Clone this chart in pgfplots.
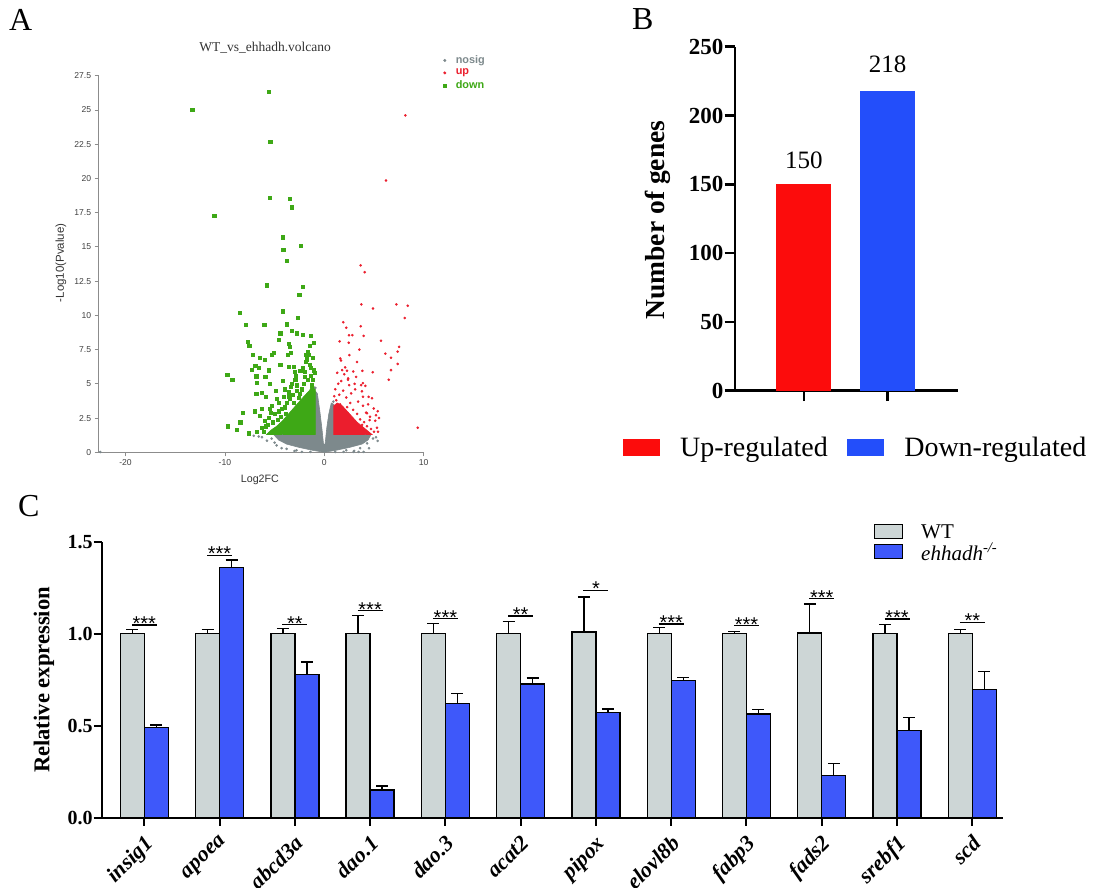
\documentclass[border=0pt]{standalone}
\usepackage{pgfplots}
\pgfplotsset{compat=1.18}
\usepackage{fontspec}
\setmainfont{Liberation Serif}
\newfontfamily\arial{Liberation Sans}
\definecolor{agreen}{RGB}{62,168,22}
\definecolor{ared}{RGB}{235,30,45}
\definecolor{agrey}{RGB}{125,137,140}
\definecolor{aaxis}{RGB}{140,140,140}
\definecolor{bred}{RGB}{252,12,12}
\definecolor{bblue}{RGB}{35,78,250}
\definecolor{cgrey}{RGB}{205,214,214}
\definecolor{cblue}{RGB}{62,88,250}
\pgfplotsset{/pgf/number format/assume math mode=true}
\begin{document}
\begin{tikzpicture}[x=1pt,y=1pt]
\path[use as bounding box] (0pt,0pt) rectangle (1094pt,888pt);
% panel letters
\node[anchor=base west,inner sep=0pt,font=\fontsize{32}{32}\selectfont] at (9pt,857pt) {A};
\node[anchor=base west,inner sep=0pt,font=\fontsize{32}{32}\selectfont] at (632pt,858pt) {B};
\node[anchor=base west,inner sep=0pt,font=\fontsize{32}{32}\selectfont] at (18pt,371.5pt) {C};

% ---------------- Panel A ----------------
\begin{axis}[
  at={(98.7pt,435.7pt)}, anchor=south west, scale only axis,
  width=325pt, height=376.6pt,
  xmin=-22.7, xmax=10, ymin=0, ymax=27.5,
  axis lines=left, axis line style={-, draw=aaxis, line width=0.8pt},
  xtick={-20,-10,0,10},
  ytick={0,2.5,5,7.5,10,12.5,15,17.5,20,22.5,25,27.5},
  tick align=outside, major tick length=4pt,
  tick style={draw=aaxis, line width=0.8pt},
  ticklabel style={font=\arial\fontsize{8.6}{9}\selectfont, text=black!75},
  clip=false,
  title={WT\_vs\_ehhadh.volcano},
  title style={at={(axis description cs:0.512,1.058)}, anchor=center, font=\fontsize{13.5}{14}\selectfont, text=black!80},
  xlabel={Log2FC},
  xlabel style={at={(axis description cs:0.496,-0.0736)}, anchor=center, font=\arial\fontsize{10.7}{11}\selectfont, text=black!80},
  ylabel={-Log10(Pvalue)},
  ylabel style={at={(axis description cs:-0.116,0.503)}, anchor=center, font=\arial\fontsize{11.5}{12}\selectfont, text=black!80},
  legend style={at={(axis description cs:1.059,1.057)}, anchor=north west, draw=none, fill=none,
    font=\arial\bfseries\fontsize{10.9}{11}\selectfont, inner sep=0pt, row sep=2.5pt,
    nodes={inner sep=0.8pt},
    /tikz/every odd column/.append style={column sep=8.5pt}},
  legend cell align=left,
]
% grey (nosig) dense region
\addplot[fill=agrey, draw=agrey, line width=0.6pt, forget plot] coordinates {
 (-5.1,1.3) (-0.95,1.3) (-0.95,4.5) (-0.7,4.3) (-0.45,3.0) (-0.25,1.8) (-0.08,0.6)
 (0.08,0.6) (0.25,1.8) (0.45,2.8) (0.7,3.6) (0.95,3.5) (0.95,1.3) (4.7,1.3)
 (4.4,0.9) (3.8,0.6) (2.5,0.35) (1.2,0.15) (0,0) (-1.2,0.15) (-2.5,0.35) (-3.8,0.6) (-4.6,0.9) } -- cycle;
\addplot[only marks, mark=*, mark size=1.1pt, agrey, forget plot] coordinates {
 (-22.55,0.02) (-7.1,1.2) (-6.6,1.15) (-6.28,1.1) (-5.77,0.85) (-5.3,1.0) (-5.0,0.7)
 (5.37,0.83) (4.3,0.65) (4.9,1.0) (5.2,1.1) (-4.8,0.5) (-4.3,0.3) (4.5,0.3) (-3,0.1) (3,0.1)
 (-2.25,0.03) (-1.4,0.03) (1.1,0.03) (1.95,0.03) (2.95,0.03) (3.45,0.03) (3.96,0.03)
 (-3.8,0.25) (-2.8,0.15) (2.2,0.15) (3.6,0.3) (-4.2,1.2) (4.1,1.2) (-0.9,4.7) (0.9,3.7) };
% green (down) dense region
\addplot[fill=agreen, draw=agreen, line width=0.6pt, forget plot] coordinates {
 (-0.9,1.3) (-0.9,4.7) (-1.2,4.9) (-1.5,4.5) (-1.9,4.2) (-2.4,3.8) (-3.0,3.3)
 (-3.6,2.8) (-4.2,2.3) (-4.8,1.9) (-5.4,1.6) (-5.8,1.3) } -- cycle;
\addplot[only marks, mark=square*, mark size=1.6pt, agreen, forget plot] coordinates {
 (-13.3,25.0) (-5.57,26.35) (-5.44,22.7) (-5.5,18.6) (-11.07,17.25) (-3.52,18.5) (-3.26,17.9)
 (-4.19,15.7) (-4.13,14.8) (-3.76,14.0) (-2.38,15.1) (-5.77,12.2) (-2.15,12.1) (-2.52,11.5)
 (-8.49,10.2) (-4.19,10.3) (-7.89,9.3) (-6.04,9.3) (-3.76,9.35) (-2.68,9.8) (-3.32,8.9)
 (-2.79,8.7) (-2.15,8.6) (-1.34,8.5) (-4.43,8.7) (-4.56,8.2) (-7.68,8.1) (-7.55,7.8)
 (-3.56,7.95) (-3.46,7.7) (-1.44,7.8) (-7.21,7.15) (-6.48,6.9) (-6.0,6.75) (-5.27,7.15)
 (-5.1,7.25) (-3.69,7.15) (-3.42,7.3) (-1.91,7.15) (-1.68,7.35) (-1.81,6.8) (-7.28,6.05)
 (-6.95,6.3) (-6.61,6.2) (-5.6,6.0) (-4.43,6.4) (-3.56,6.25) (-3.09,6.25) (-2.42,5.95)
 (-1.98,5.9) (-1.41,6.15) (-1.07,6.0) (-9.77,5.65) (-9.26,5.3) (-6.85,5.55) (-5.94,5.5)
 (-6.78,5.1) (-5.5,5.0) (-4.16,5.25) (-3.42,4.8) (-2.92,5.3) (-2.75,4.9) (-6.85,4.3)
 (-6.28,4.35) (-4.77,3.9) (-4.09,4.05) (-5.9,4.05) (-3.56,4.4) (-6.34,3.2) (-5.5,3.2)
 (-8.22,2.9) (-8.46,2.2) (-9.7,1.9) (-8.8,1.65) (-7.62,1.4)
 (-5.2,2.2) (-5.6,2.5) (-5.0,2.8) (-4.6,3.0) (-4.4,2.6) (-4.0,3.3) (-3.8,3.6) (-3.5,3.9)
 (-3.2,4.2) (-2.8,4.5) (-2.6,4.0) (-2.3,4.6) (-2.1,5.0) (-1.7,5.3) (-1.4,5.6) (-1.2,5.3)
 (-1.0,5.8) (-1.5,6.4) (-2.0,5.5) (-2.9,5.6) (-3.3,5.0) (-4.0,4.6) (-4.6,3.6) (-5.3,3.4)
 (-6.0,2.3) (-6.3,1.8) (-6.8,1.5) (-5.9,1.9) (-6.5,2.7) (-7.0,3.0) (-4.9,4.5) (-1.2,6.9)
 (-1.6,7.1) (-1.1,8.0) (-1.9,6.6) (-2.2,6.2) (-3.0,5.9) (-1.3,4.9) (-2.5,4.3) (-3.6,4.1)
 (-4.3,3.2) (-5.7,2.0) (-6.1,1.5) (-5.4,2.9) (-4.7,2.4) (-3.9,2.8) (-3.1,3.6) (-2.7,3.3) };
% red (up) dense region
\addplot[fill=ared, draw=ared, line width=0.6pt, forget plot] coordinates {
 (0.95,1.3) (0.95,3.4) (1.3,3.6) (1.8,3.4) (2.3,3.0) (2.8,2.6) (3.3,2.2) (3.8,1.9)
 (4.3,1.6) (4.8,1.3) } -- cycle;
\addplot[only marks, mark=*, mark size=1.1pt, ared, forget plot] coordinates {
 (8.15,24.6) (6.21,19.85) (3.66,13.65) (4.06,13.15) (3.72,10.8) (4.9,10.5) (7.25,10.8)
 (8.39,10.7) (8.09,9.8) (1.91,9.5) (2.21,9.1) (3.66,9.2) (2.48,8.55) (2.82,8.55) (3.96,8.5)
 (1.54,8.1) (2.45,8.0) (5.7,8.15) (3.52,7.5) (7.52,7.7) (7.38,7.35) (6.14,7.2) (2.52,7.1)
 (6.71,6.9) (1.61,6.85) (1.68,6.7) (3.29,6.6) (7.38,6.45) (6.71,6.0) (2.28,5.95) (3.83,5.95)
 (4.87,5.85) (6.48,5.3) (2.38,5.3) (3.05,5.0) (3.89,5.05) (4.13,4.85) (3.79,4.45) (4.46,4.05)
 (4.8,3.95) (3.89,4.05) (9.4,1.8) (4.97,3.2) (5.37,3.0) (5.2,2.7) (4.3,2.85) (4.56,2.35) (5.13,2.3)
 (1.2,3.8) (1.5,4.2) (1.9,4.5) (2.2,4.0) (2.6,3.6) (2.9,3.1) (3.3,2.8) (3.6,2.4) (4.0,2.2)
 (4.3,1.9) (4.7,1.7) (5.0,1.5) (5.3,1.8) (4.6,2.6) (3.9,3.4) (3.4,3.7) (2.5,4.9) (1.7,5.2)
 (1.1,4.6) (2.0,5.7) (1.3,5.8) (2.7,4.3) (3.1,4.6) (4.2,2.9) (1.6,3.5) (2.3,3.3) (3.8,2.0)
 (5.5,2.5) (5.4,1.5) (2.1,6.2) (1.8,6.0) (3.2,5.5) (2.9,5.9) (1.4,5.0) (2.4,5.4) (4.4,3.5)
 (1.0,4.1) (3.7,4.9) };
\addlegendimage{legend image code/.code={\fill[agrey] (1.5pt,-0.5pt) circle (1.3pt);}}
\addlegendentry{\textcolor{agrey}{nosig}}
\addlegendimage{legend image code/.code={\fill[ared] (1.5pt,-0.5pt) circle (1.3pt);}}
\addlegendentry{\textcolor{ared}{up}}
\addlegendimage{legend image code/.code={\fill[agreen] (0pt,-2pt) rectangle (3pt,1pt);}}
\addlegendentry{\textcolor{agreen}{down}}
\end{axis}

% ---------------- Panel B ----------------
\begin{axis}[
  at={(735pt,497.3pt)}, anchor=south west, scale only axis,
  width=223pt, height=344pt,
  xmin=-0.826, xmax=1.844, ymin=0, ymax=250,
  axis lines=left, axis line style={-, line width=2.6pt},
  xtick={0,1}, xticklabels={,},
  ytick={0,50,100,150,200,250},
  tick align=outside, major tick length=10.5pt,
  tick style={line width=2.6pt, black},
  yticklabel style={font=\bfseries\fontsize{23}{23}\selectfont, inner sep=1pt},
  ylabel={Number of genes},
  ylabel style={at={(axis description cs:-0.345,0.496)}, anchor=center, font=\bfseries\fontsize{27.5}{28}\selectfont},
  clip=false,
  legend columns=2,
  legend style={at={(axis description cs:-0.5036,-0.1343)}, anchor=north west, draw=none, fill=none,
    font=\fontsize{28}{28}\selectfont, inner sep=0pt, nodes={inner sep=0pt},
    /tikz/every odd column/.append style={column sep=20.5pt},
    /tikz/every even column/.append style={column sep=19.3pt}},
]
\addplot[ybar, bar width=55pt, fill=bred, draw=none,
  nodes near coords, every node near coord/.append style={font=\fontsize{25}{25}\selectfont, text=black, inner sep=0pt, yshift=15pt},
  legend image code/.code={\fill[bred] (0pt,-8.4pt) rectangle (36.7pt,8.6pt);}]
  coordinates {(0,150)};
\addlegendentry{Up-regulated}
\addplot[ybar, bar width=55pt, fill=bblue, draw=none,
  nodes near coords, every node near coord/.append style={font=\fontsize{25}{25}\selectfont, text=black, inner sep=0pt, yshift=18pt},
  legend image code/.code={\fill[bblue] (0pt,-8.4pt) rectangle (36.7pt,8.6pt);}]
  coordinates {(1,218)};
\addlegendentry{Down-regulated}
\end{axis}

% ---------------- Panel C ----------------
\begin{axis}[
  at={(101.7pt,70.3pt)}, anchor=south west, scale only axis,
  width=901.3pt, height=276pt,
  xmin=-0.566, xmax=11.408, ymin=0, ymax=1.5,
  axis lines=left, axis line style={-, line width=2pt},
  ybar=0pt, bar width=24pt,
  xtick={0,1,2,3,4,5,6,7,8,9,10,11},
  xticklabels={insig1,apoea,abcd3a,dao.1,dao.3,acat2,pipox,elovl8b,fabp3,fads2,srebf1,scd},
  xticklabel style={font=\bfseries\itshape\fontsize{22}{22}\selectfont, inner sep=0pt, xshift=-1pt, yshift=-8pt, rotate=45, anchor=north east},
  ytick={0,0.5,1,1.5},
  yticklabel style={font=\bfseries\fontsize{20}{20}\selectfont, inner sep=1pt,
    /pgf/number format/.cd, fixed, fixed zerofill, precision=1},
  tick align=outside, major tick length=8pt,
  tick style={line width=2pt, black},
  ylabel={Relative expression},
  ylabel style={at={(axis description cs:-0.064,0.499)}, anchor=center, font=\bfseries\fontsize{22.6}{23}\selectfont},
  clip=false,
  legend style={at={(axis description cs:0.8565,1.0665)}, anchor=north west, draw=none, fill=none,
    font=\fontsize{21}{21}\selectfont, inner sep=0pt, nodes={inner sep=0pt}, row sep=3.5pt,
    /tikz/every odd column/.append style={column sep=18pt}},
  legend cell align=left,
]
\addplot[fill=cgrey, draw=black, line width=1.3pt,
  error bars/.cd, y dir=plus, y explicit,
  error bar style={line width=1.3pt, black},
  error mark options={rotate=90, line width=1.3pt, mark size=6pt, black},
  /pgfplots/legend image code/.code={\draw[fill=cgrey, draw=black, line width=1.3pt] (0pt,-6.3pt) rectangle (28pt,7.7pt);}]
  table[x=x, y=y, y error=e] {
x y e
0 1.000 0.022
1 1.000 0.022
2 1.000 0.029
3 1.000 0.100
4 1.000 0.056
5 1.000 0.068
6 1.010 0.190
7 1.000 0.033
8 1.000 0.013
9 1.004 0.157
10 1.000 0.049
11 1.000 0.024
};
\addlegendentry{WT}
\addplot[fill=cblue, draw=black, line width=1.3pt,
  error bars/.cd, y dir=plus, y explicit,
  error bar style={line width=1.3pt, black},
  error mark options={rotate=90, line width=1.3pt, mark size=6pt, black},
  /pgfplots/legend image code/.code={\draw[fill=cblue, draw=black, line width=1.3pt] (0pt,-6.3pt) rectangle (28pt,7.7pt);}]
  table[x=x, y=y, y error=e] {
x y e
0 0.491 0.013
1 1.361 0.040
2 0.777 0.069
3 0.150 0.022
4 0.622 0.054
5 0.727 0.033
6 0.573 0.017
7 0.745 0.016
8 0.564 0.023
9 0.230 0.065
10 0.475 0.071
11 0.698 0.096
};
\addlegendentry{\textit{ehhadh}\textsuperscript{\textit{-/-}}}
% significance lines
\draw[line width=1.3pt] (axis cs:-0.166,1.047) -- (axis cs:0.166,1.047);
\draw[line width=1.3pt] (axis cs:0.834,1.426) -- (axis cs:1.166,1.426);
\draw[line width=1.3pt] (axis cs:1.834,1.049) -- (axis cs:2.166,1.049);
\draw[line width=1.3pt] (axis cs:2.834,1.125) -- (axis cs:3.166,1.125);
\draw[line width=1.3pt] (axis cs:3.834,1.082) -- (axis cs:4.166,1.082);
\draw[line width=1.3pt] (axis cs:4.834,1.096) -- (axis cs:5.166,1.096);
\draw[line width=1.3pt] (axis cs:5.834,1.236) -- (axis cs:6.166,1.236);
\draw[line width=1.3pt] (axis cs:6.834,1.053) -- (axis cs:7.166,1.053);
\draw[line width=1.3pt] (axis cs:7.834,1.043) -- (axis cs:8.166,1.043);
\draw[line width=1.3pt] (axis cs:8.834,1.190) -- (axis cs:9.166,1.190);
\draw[line width=1.3pt] (axis cs:9.834,1.080) -- (axis cs:10.166,1.080);
\draw[line width=1.3pt] (axis cs:10.834,1.062) -- (axis cs:11.166,1.062);
\tikzset{star/.style={anchor=base, inner sep=0pt, yshift=-5.5pt, font=\arial\fontsize{20}{20}\selectfont}}
\node[star] at (axis cs:0,1.047) {***};
\node[star] at (axis cs:1,1.426) {***};
\node[star] at (axis cs:2,1.049) {**};
\node[star] at (axis cs:3,1.125) {***};
\node[star] at (axis cs:4,1.082) {***};
\node[star] at (axis cs:5,1.096) {**};
\node[star] at (axis cs:6,1.236) {*};
\node[star] at (axis cs:7,1.053) {***};
\node[star] at (axis cs:8,1.043) {***};
\node[star] at (axis cs:9,1.190) {***};
\node[star] at (axis cs:10,1.080) {***};
\node[star] at (axis cs:11,1.062) {**};
\end{axis}
\end{tikzpicture}
\end{document}
